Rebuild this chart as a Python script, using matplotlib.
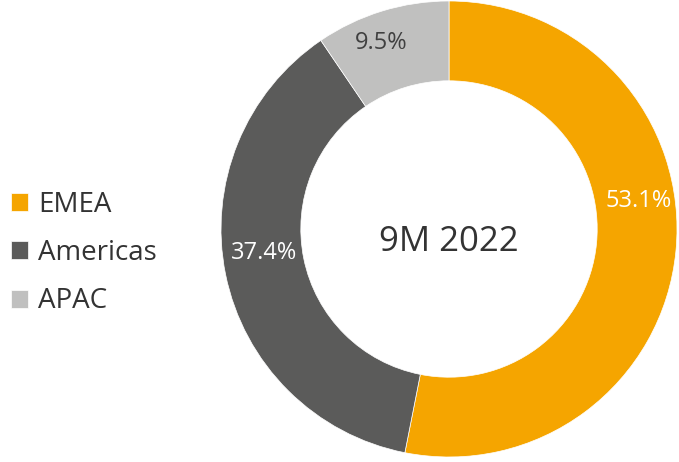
import matplotlib.pyplot as plt
import numpy as np

regions = ['EMEA', 'Americas', 'APAC']
shares = [53.1, 37.4, 9.5]
colors = ['#F5A500', '#5B5B5A', '#C0C0BF']
label_colors = ['white', 'white', '#404040']
center_text = '9M 2022'

plt.rcParams['font.family'] = ['Open Sans', 'DejaVu Sans']

fig = plt.figure(figsize=(6.79, 4.62), dpi=100)
# donut axes: center ~ (449, 229) px, radius 228 px
ax = fig.add_axes([221 / 679, 5 / 462, 456 / 679, 456 / 462])

wedges, texts, autotexts = ax.pie(
    shares, colors=colors, startangle=90, counterclock=False,
    radius=1.0, wedgeprops=dict(width=0.35, edgecolor='white', linewidth=0.5),
    autopct='%1.1f%%', pctdistance=0.83,
    textprops=dict(fontsize=17))
ax.set_xlim(-1, 1)
ax.set_ylim(-1, 1)
ax.set_aspect('equal')

# small nudges to match the label placement of the original
nudges = [14, -4, 3]
radii = [0.84, 0.82, 0.87]
for w, t, c, d, r in zip(wedges, autotexts, label_colors, nudges, radii):
    t.set_color(c)
    ang = np.deg2rad((w.theta1 + w.theta2) / 2 + d)
    t.set_position((r * np.cos(ang), r * np.sin(ang)))

ax.text(0, -0.055, center_text, ha='center', va='center', fontsize=25, color='#333333')

fig.legend(wedges, regions, loc='center left', bbox_to_anchor=(0.0, 0.452),
           frameon=False, fontsize=20, handlelength=0.62, handleheight=0.62,
           handletextpad=0.34, labelspacing=0.73, borderaxespad=0,
           labelcolor='#333333')

fig.savefig('out.png', dpi=100)
